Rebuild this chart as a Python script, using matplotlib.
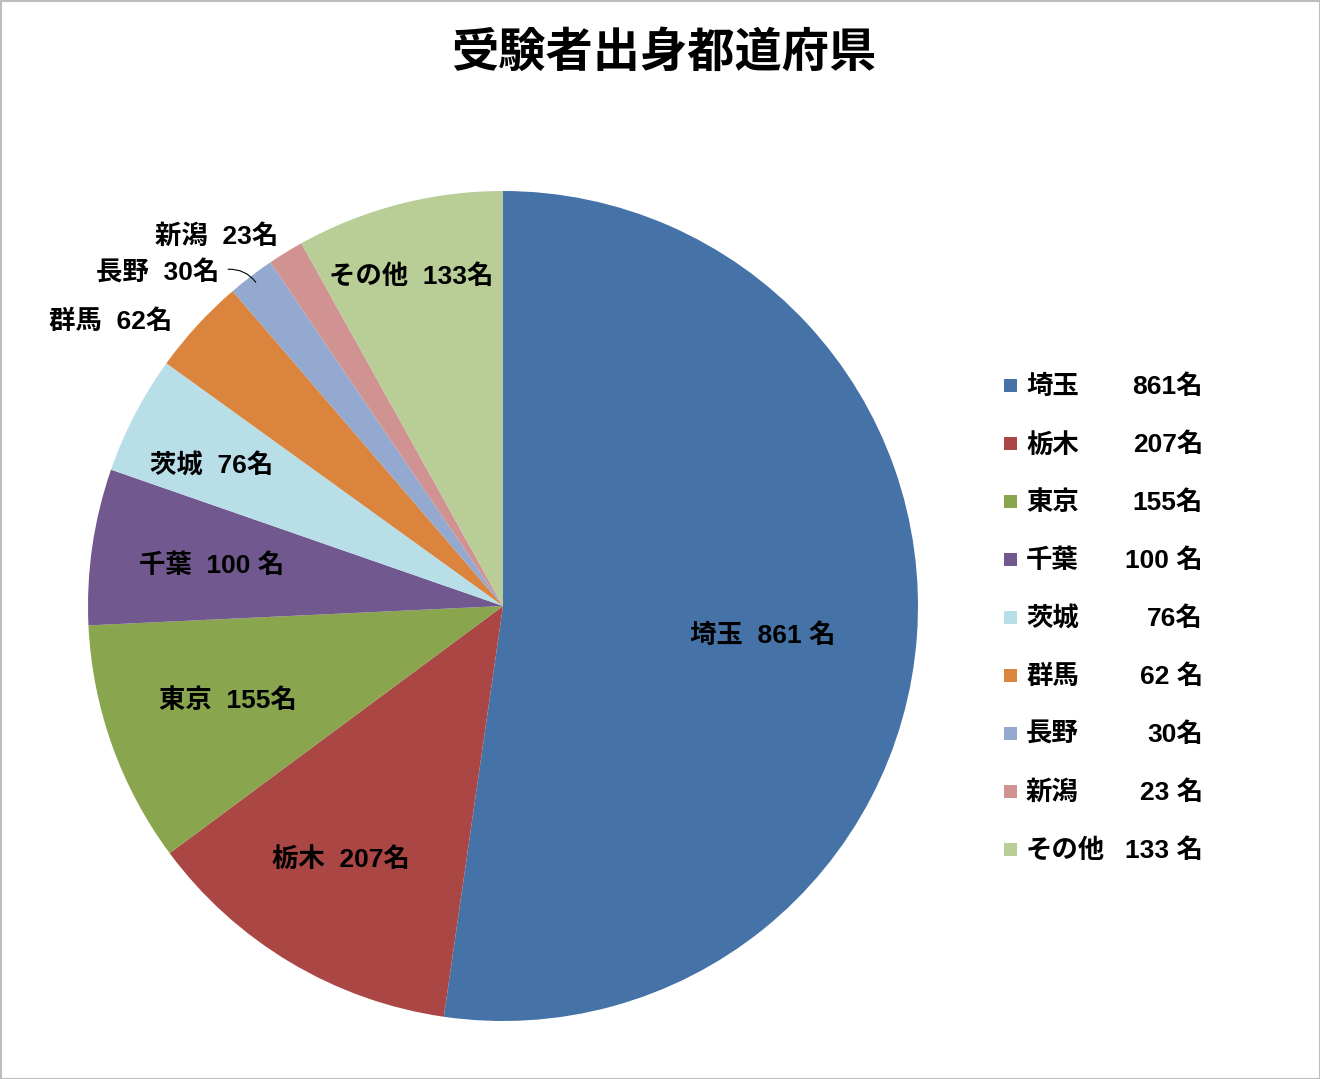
import matplotlib
matplotlib.use("Agg")
import matplotlib.pyplot as plt
from matplotlib.patches import Rectangle
import numpy as np

plt.rcParams['font.family'] = ['Liberation Sans', 'Noto Sans CJK JP', 'DejaVu Sans']

title = "受験者出身都道府県"
names = ["埼玉", "栃木", "東京", "千葉", "茨城", "群馬", "長野", "新潟", "その他"]
values = [861, 207, 155, 100, 76, 62, 30, 23, 133]
slice_labels = ["埼玉  861 名", "栃木  207名", "東京  155名", "千葉  100 名", "茨城  76名",
                "群馬  62名", "長野  30名", "新潟  23名", "その他  133名"]
legend_counts = ["861名", "207名", "155名", "100 名", "76名", "62 名", "30名", "23 名", "133 名"]
colors = ["#4573A7", "#AA4644", "#89A54E", "#71588F", "#B8DEE8", "#DB843D", "#93A9CF", "#D19392", "#B9CD97"]

# label placement: radial distance factor and angular tweak (deg)
label_dist = [0.63, 0.72, 0.70, 0.71, 0.78, 1.17, 1.16, 1.13, 0.83]
label_dtheta = [-2, -2, -1, 0, 1.5, 6.5, 8.5, 6, 1]

W, H = 1320, 1079
fig = plt.figure(figsize=(W / 100, H / 100), dpi=100)
ax = fig.add_axes([0, 0, 1, 1])

cx, cy, R = 503, H - 606, 415
wedges, _ = ax.pie(values, colors=colors, startangle=90, counterclock=False,
                   center=(cx, cy), radius=R, frame=True,
                   wedgeprops=dict(linewidth=0))
ax.set_xlim(0, W)
ax.set_ylim(0, H)
ax.set_aspect('equal')
ax.axis('off')

for w, lab, d, dt in zip(wedges, slice_labels, label_dist, label_dtheta):
    ang = np.deg2rad((w.theta1 + w.theta2) / 2 + dt)
    x = cx + d * R * np.cos(ang)
    y = cy + d * R * np.sin(ang)
    ax.text(x, y - 2, lab, ha='center', va='center', fontsize=19, fontweight='bold', color='black')

# leader line for 長野
w = wedges[6]
ang = np.deg2rad((w.theta1 + w.theta2) / 2)
px, py = cx + 0.975 * R * np.cos(ang), cy + 0.975 * R * np.sin(ang)
tx, ty = px - 32, py + 15
ax.annotate("", xy=(px, py), xytext=(tx, ty),
            arrowprops=dict(arrowstyle='-', color='black', lw=0.8,
                            connectionstyle="arc3,rad=-0.3"))

# title
ax.text(664, H - 55, title, ha='center', va='center', fontsize=34, fontweight='bold')

# legend (manual)
ly0 = 385
step = 58
for i, (n, c, col) in enumerate(zip(names, legend_counts, colors)):
    y = H - (ly0 + i * step)
    ax.add_patch(Rectangle((1004, y - 6.5), 13, 13, facecolor=col, edgecolor='none'))
    ax.text(1026, y - 2, n, ha='left', va='center', fontsize=19, fontweight='bold')
    ax.text(1203, y - 2, c, ha='right', va='center', fontsize=19, fontweight='bold')

# border
ax.add_patch(Rectangle((0.5, 0.5), W - 1, H - 1, facecolor='none', edgecolor='#BDBDBD', lw=1.5))

fig.savefig("out.png", dpi=100)
